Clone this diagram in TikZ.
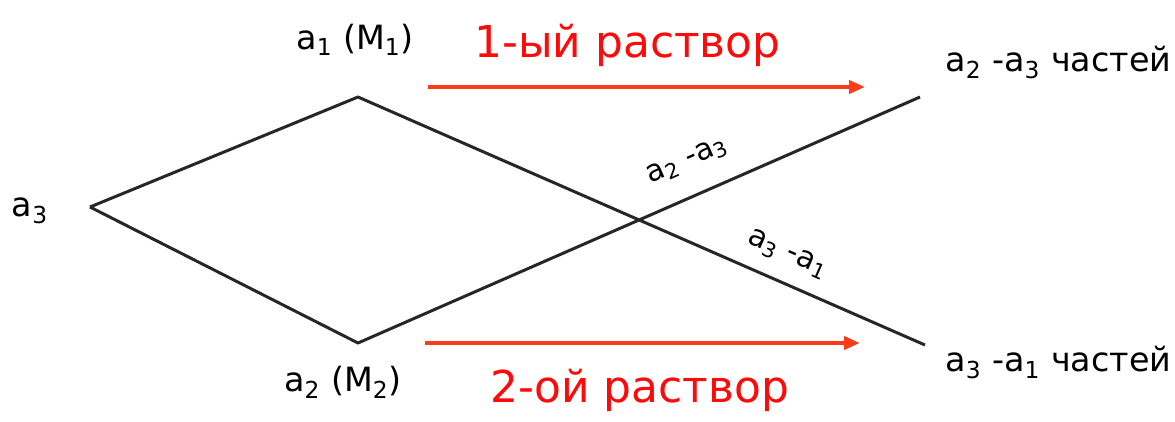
\documentclass[tikz,border=0pt]{standalone}
\usepackage{fontspec}
\setmainfont{DejaVu Sans}
\usepackage{xcolor}
\usetikzlibrary{arrows.meta}
\definecolor{lblred}{RGB}{255,10,10}
\definecolor{arrred}{RGB}{250,60,25}

\begin{document}
\begin{tikzpicture}[
    line/.style={line width=1.7pt, black!85},
    lbl/.style={font=\fontsize{19}{22}\selectfont, inner sep=0pt},
    small/.style={font=\fontsize{17}{20}\selectfont, inner sep=0pt},
    sol/.style={font=\fontsize{25}{30}\selectfont, text=lblred, inner sep=0pt},
    arrow/.style={-{Triangle[length=3.2mm,width=2.6mm]}, line width=2.6pt, arrred}
]
\useasboundingbox (0,0) rectangle (23.5,-8.42);

% Vertices of the cross
\coordinate (left) at (1.8,-4.14);
\coordinate (top) at (7.16,-1.94);
\coordinate (bot) at (7.16,-6.86);
\coordinate (upend) at (18.4,-1.94);
\coordinate (lowend) at (18.5,-6.9);

% Lines
\draw[line, line join=round] (left) -- (top) -- (lowend);
\draw[line, line join=round] (left) -- (bot) -- (upend);

% Concentrations
\node[lbl] (a3) at (0.6,-4.22) {a\textsubscript{3}};
\node[lbl] (a1) at (7.1,-0.8) {a\textsubscript{1} (M\textsubscript{1})};
\node[lbl] (a2) at (6.86,-7.65) {a\textsubscript{2} (M\textsubscript{2})};

% Differences along the lines
\node[small, rotate=23.7] (d23) at (13.75,-3.22) {a\textsubscript{2} -a\textsubscript{3}};
\node[small, rotate=-23.7] (d31) at (15.75,-5.08) {a\textsubscript{3} -a\textsubscript{1}};

% Parts
\node[lbl, anchor=west] (p1) at (18.9,-1.25) {a\textsubscript{2} -a\textsubscript{3} частей};
\node[lbl, anchor=west] (p2) at (18.9,-7.25) {a\textsubscript{3} -a\textsubscript{1} частей};

% Solutions
\coordinate (s1a) at (8.56,-1.74);
\coordinate (s1b) at (17.3,-1.74);
\coordinate (s2a) at (8.5,-6.86);
\coordinate (s2b) at (17.2,-6.86);
\draw[arrow] (s1a) -- (s1b);
\draw[arrow] (s2a) -- (s2b);
\node[sol] (sol1) at (12.55,-0.9) {1-ый раствор};
\node[sol] (sol2) at (12.8,-7.8) {2-ой раствор};

\end{tikzpicture}
\end{document}
